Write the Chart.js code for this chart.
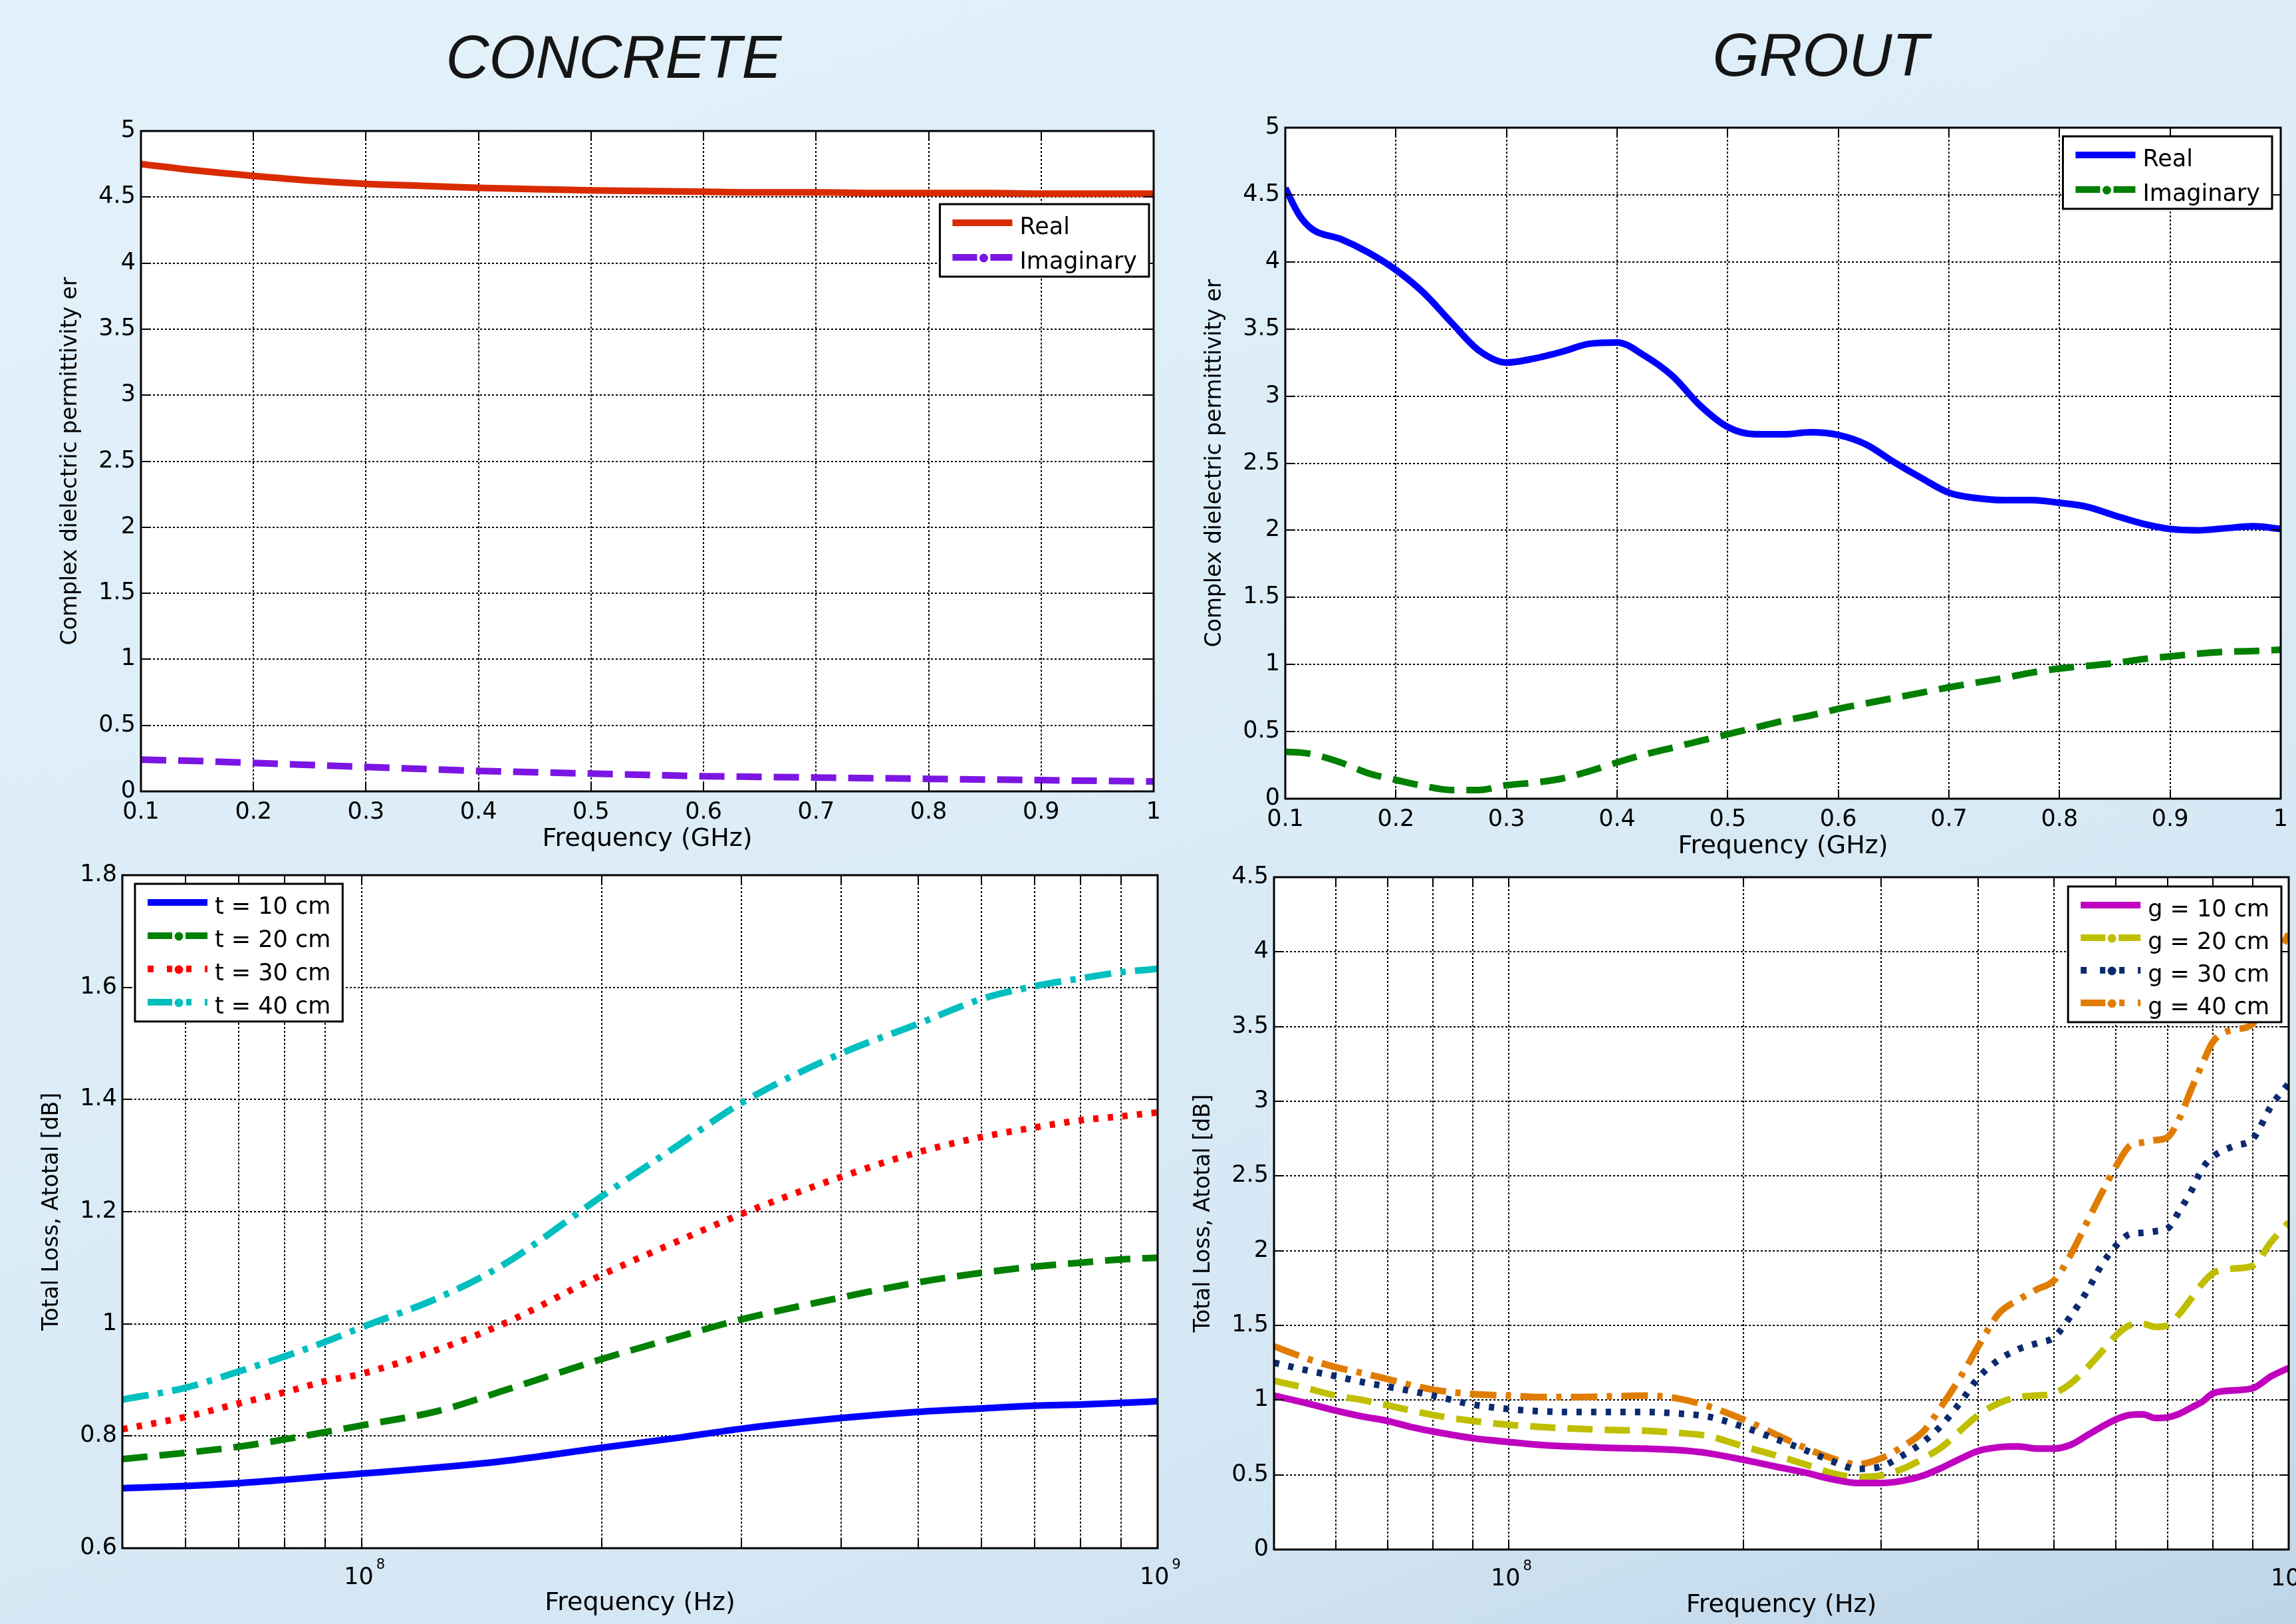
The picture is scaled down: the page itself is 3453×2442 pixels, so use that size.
<!DOCTYPE html>
<html lang="en">
<head>
  <meta charset="UTF-8" />
  <title>Concrete and grout - permittivity and total loss</title>
  <script src="https://cdn.jsdelivr.net/npm/chart.js"></script>
  <style>
    html, body { margin: 0; padding: 0; }
    body {
      width: 3453px; height: 2442px; overflow: hidden; position: relative;
      background: linear-gradient(160deg, #e3f1fa 0%, #dcedf8 45%, #d3e6f3 80%, #bdd5e9 100%);
    }
    .panel-title {
      position: absolute; top: 41px; transform: translateX(-50%); white-space: nowrap;
      font: italic 90px/90px "Liberation Sans", Arial, sans-serif; color: #151515;
    }
    canvas { position: absolute; }
  </style>
</head>
<body>
  <div class="panel-title" style="left:923px">CONCRETE</div>
  <div class="panel-title" style="left:2738px; top:38px">GROUT</div>

  <canvas id="concretePerm" width="1760" height="1150" style="left:0; top:150px"></canvas>
  <canvas id="groutPerm" width="1693" height="1150" style="left:1760px; top:150px"></canvas>
  <canvas id="concreteLoss" width="1790" height="1157" style="left:0; top:1285px"></canvas>
  <canvas id="groutLoss" width="1693" height="1157" style="left:1760px; top:1285px"></canvas>

  <script>
    // ---- tick values ----
    const ghzTicks = [0.1, 0.2, 0.3, 0.4, 0.5, 0.6, 0.7, 0.8, 0.9, 1];
    const permTicks = [0, 0.5, 1, 1.5, 2, 2.5, 3, 3.5, 4, 4.5, 5];
    const hzTicks = [5e7, 6e7, 7e7, 8e7, 9e7, 1e8, 2e8, 3e8, 4e8, 5e8, 6e8, 7e8, 8e8, 9e8, 1e9];
    const hzLabelValues = [1e8, 1e9];
    const concreteLossTicks = [0.6, 0.8, 1, 1.2, 1.4, 1.6, 1.8];
    const groutLossTicks = [0, 0.5, 1, 1.5, 2, 2.5, 3, 3.5, 4, 4.5];

    // ---- concrete permittivity ----
    const concreteGHz = [0.1, 0.15, 0.2, 0.25, 0.3, 0.35, 0.4, 0.45, 0.5, 0.55, 0.6, 0.65, 0.7, 0.75, 0.8, 0.85, 0.9, 0.95, 1];
    const concreteReal = [4.75, 4.70, 4.66, 4.625, 4.60, 4.585, 4.57, 4.56, 4.55, 4.545, 4.54, 4.535, 4.535, 4.53, 4.53, 4.53, 4.525, 4.525, 4.525];
    const concreteImag = [0.24, 0.23, 0.215, 0.2, 0.185, 0.17, 0.155, 0.145, 0.135, 0.125, 0.115, 0.11, 0.105, 0.1, 0.095, 0.09, 0.085, 0.08, 0.075];

    // ---- grout permittivity ----
    const groutGHz = [0.1, 0.1125, 0.125, 0.15, 0.175, 0.2, 0.225, 0.25, 0.275, 0.3, 0.325, 0.35, 0.375, 0.4, 0.425, 0.45, 0.475, 0.5, 0.525, 0.55, 0.575, 0.6, 0.625, 0.65, 0.675, 0.7, 0.725, 0.75, 0.775, 0.8, 0.825, 0.85, 0.875, 0.9, 0.925, 0.95, 0.975, 1];
    const groutReal = [4.55, 4.35, 4.24, 4.17, 4.07, 3.94, 3.77, 3.55, 3.34, 3.25, 3.28, 3.33, 3.39, 3.40, 3.30, 3.15, 2.93, 2.77, 2.715, 2.715, 2.73, 2.71, 2.64, 2.51, 2.39, 2.28, 2.24, 2.225, 2.225, 2.205, 2.175, 2.11, 2.05, 2.01, 2.00, 2.015, 2.03, 2.01];
    const groutImag = [0.35, 0.345, 0.33, 0.27, 0.19, 0.14, 0.095, 0.065, 0.065, 0.10, 0.12, 0.15, 0.205, 0.27, 0.33, 0.38, 0.43, 0.48, 0.53, 0.58, 0.62, 0.67, 0.71, 0.75, 0.79, 0.83, 0.865, 0.90, 0.94, 0.97, 0.99, 1.01, 1.04, 1.06, 1.08, 1.095, 1.10, 1.11];

    // ---- concrete total loss (t = thickness) ----
    const concreteHz = [5e7, 6e7, 7e7, 8e7, 9e7, 1e8, 1.25e8, 1.5e8, 2e8, 2.5e8, 3e8, 4e8, 5e8, 6e8, 7e8, 8e8, 9e8, 1e9];
    const lossT10 = [0.707, 0.711, 0.716, 0.722, 0.728, 0.733, 0.744, 0.755, 0.779, 0.797, 0.813, 0.832, 0.843, 0.849, 0.854, 0.856, 0.859, 0.862];
    const lossT20 = [0.759, 0.770, 0.781, 0.794, 0.807, 0.819, 0.845, 0.880, 0.937, 0.977, 1.008, 1.047, 1.074, 1.091, 1.102, 1.109, 1.115, 1.118];
    const lossT30 = [0.812, 0.834, 0.858, 0.878, 0.898, 0.911, 0.955, 0.999, 1.087, 1.148, 1.196, 1.262, 1.306, 1.333, 1.350, 1.363, 1.370, 1.377];
    const lossT40 = [0.865, 0.886, 0.915, 0.942, 0.968, 0.994, 1.047, 1.104, 1.227, 1.319, 1.394, 1.482, 1.535, 1.579, 1.602, 1.616, 1.627, 1.633];

    // ---- grout total loss (g = thickness) ----
    const groutHz = [5e7, 5.5e7, 6e7, 6.5e7, 7e7, 7.5e7, 8e7, 9e7, 1e8, 1.1e8, 1.2e8, 1.35e8, 1.5e8, 1.65e8, 1.8e8, 2e8, 2.2e8, 2.4e8, 2.6e8, 2.8e8, 3e8, 3.2e8, 3.4e8, 3.6e8, 3.8e8, 4e8, 4.25e8, 4.5e8, 4.75e8, 5e8, 5.25e8, 5.5e8, 5.75e8, 6e8, 6.25e8, 6.5e8, 6.75e8, 7e8, 7.25e8, 7.5e8, 7.75e8, 8e8, 8.5e8, 9e8, 9.5e8, 1e9];
    const lossG10 = [1.03, 0.98, 0.93, 0.89, 0.86, 0.82, 0.79, 0.745, 0.72, 0.70, 0.69, 0.68, 0.675, 0.665, 0.645, 0.60, 0.555, 0.515, 0.47, 0.445, 0.445, 0.46, 0.495, 0.55, 0.61, 0.66, 0.685, 0.69, 0.676, 0.676, 0.70, 0.76, 0.82, 0.87, 0.90, 0.905, 0.88, 0.885, 0.91, 0.95, 0.99, 1.045, 1.065, 1.08, 1.16, 1.215];
    const lossG20 = [1.13, 1.08, 1.03, 1.0, 0.965, 0.93, 0.90, 0.86, 0.835, 0.82, 0.81, 0.80, 0.795, 0.78, 0.76, 0.69, 0.63, 0.57, 0.51, 0.485, 0.495, 0.54, 0.61, 0.69, 0.80, 0.90, 0.98, 1.02, 1.03, 1.045, 1.11, 1.21, 1.32, 1.43, 1.50, 1.51, 1.49, 1.50, 1.58, 1.68, 1.78, 1.85, 1.88, 1.90, 2.06, 2.19];
    const lossG30 = [1.25, 1.20, 1.16, 1.12, 1.09, 1.06, 1.03, 0.97, 0.94, 0.925, 0.92, 0.92, 0.92, 0.91, 0.89, 0.82, 0.74, 0.665, 0.59, 0.54, 0.555, 0.63, 0.72, 0.84, 0.99, 1.15, 1.27, 1.34, 1.38, 1.42, 1.56, 1.72, 1.90, 2.03, 2.11, 2.12, 2.13, 2.15, 2.27, 2.40, 2.55, 2.63, 2.70, 2.75, 2.97, 3.12];
    const lossG40 = [1.36, 1.28, 1.22, 1.18, 1.14, 1.10, 1.07, 1.04, 1.03, 1.02, 1.02, 1.025, 1.03, 1.01, 0.96, 0.87, 0.77, 0.68, 0.61, 0.57, 0.61, 0.69, 0.79, 0.97, 1.16, 1.36, 1.58, 1.67, 1.74, 1.80, 1.97, 2.18, 2.38, 2.56, 2.70, 2.725, 2.74, 2.76, 2.89, 3.08, 3.25, 3.40, 3.48, 3.52, 3.90, 4.12];

    Chart.defaults.font.family = '"DejaVu Sans", sans-serif';
    Chart.defaults.color = '#000';

    const DASH = [38, 18];
    const DOT = [8, 14];
    const DASHDOT = [40, 14, 8, 14];

    function series(label, xs, ys, color, dash, sampleStyle) {
      return {
        label, sampleStyle,
        data: xs.map((x, i) => ({ x: x, y: ys[i] })),
        borderColor: color,
        borderDash: dash || [],
      };
    }

    // legend samples in the MATLAB style: [from, to] bars plus an optional centre dot
    const samplePieces = {
      solid: { bars: [[0, 90]], dot: false },
      dash: { bars: [[0, 37], [57, 90]], dot: true },
      dot: { bars: [[0, 9], [29, 37], [58, 66], [86, 90]], dot: true },
      dashdot: { bars: [[0, 37], [58, 66], [86, 90]], dot: true },
    };

    function drawLegend(chart, lg) {
      const { ctx, chartArea: a } = chart;
      const sets = chart.data.datasets;
      ctx.font = '35px "DejaVu Sans"';
      const textW = Math.max(...sets.map(d => ctx.measureText(d.label).width));
      const w = 19 + 90 + 11 + textW + 18;
      const h = 28 + (sets.length - 1) * lg.rowGap + 29;
      const x0 = lg.side === 'left' ? a.left + lg.dx : a.right - lg.dx - w;
      const y0 = a.top + lg.dy;
      ctx.fillStyle = '#fff';
      ctx.fillRect(x0, y0, w, h);
      ctx.lineWidth = 3;
      ctx.strokeStyle = '#000';
      ctx.strokeRect(x0, y0, w, h);
      sets.forEach((d, i) => {
        const cy = y0 + 28 + i * lg.rowGap;
        const sx = x0 + 19;
        const piece = samplePieces[d.sampleStyle];
        ctx.fillStyle = d.borderColor;
        piece.bars.forEach(b => ctx.fillRect(sx + b[0], cy - 5, b[1] - b[0], 10));
        if (piece.dot) {
          ctx.beginPath();
          ctx.arc(sx + 47, cy + 1, 6.5, 0, Math.PI * 2);
          ctx.fill();
        }
        ctx.fillStyle = '#000';
        ctx.textAlign = 'left';
        ctx.textBaseline = 'alphabetic';
        ctx.fillText(d.label, sx + 101, cy + 17);
      });
    }

    const axesLook = {
      id: 'axesLook',
      beforeDraw(chart) {
        const { ctx, chartArea: a } = chart;
        ctx.save();
        ctx.fillStyle = '#fff';
        ctx.fillRect(a.left, a.top, a.right - a.left, a.bottom - a.top);
        ctx.restore();
      },
      afterDraw(chart, args, opts) {
        const { ctx, chartArea: a, scales } = chart;
        ctx.save();
        // inward tick marks on all four sides
        ctx.strokeStyle = '#000';
        ctx.lineWidth = 2;
        ctx.setLineDash([]);
        ctx.beginPath();
        scales.x.ticks.forEach(t => {
          const px = Math.round(scales.x.getPixelForValue(t.value));
          ctx.moveTo(px, a.bottom); ctx.lineTo(px, a.bottom - 14);
          ctx.moveTo(px, a.top); ctx.lineTo(px, a.top + 14);
        });
        scales.y.ticks.forEach(t => {
          const py = Math.round(scales.y.getPixelForValue(t.value));
          ctx.moveTo(a.left, py); ctx.lineTo(a.left + 14, py);
          ctx.moveTo(a.right, py); ctx.lineTo(a.right - 14, py);
        });
        ctx.stroke();
        ctx.lineWidth = 3;
        ctx.strokeRect(a.left, a.top, a.right - a.left, a.bottom - a.top);

        // 10^n labels for the logarithmic frequency axis
        if (opts.powerLabels) {
          opts.powerLabels.forEach(v => {
            const px = scales.x.getPixelForValue(v);
            ctx.fillStyle = '#000';
            ctx.textAlign = 'left';
            ctx.textBaseline = 'alphabetic';
            ctx.font = '35px "DejaVu Sans"';
            ctx.fillText('10', px - 27, a.bottom + 54);
            const w10 = ctx.measureText('10').width;
            ctx.font = '21px "DejaVu Sans"';
            ctx.fillText(String(Math.round(Math.log10(v))), px - 27 + w10 + 4, a.bottom + 31);
          });
        }
        if (opts.legend) drawLegend(chart, opts.legend);
        ctx.restore();
      }
    };

    function makePanel(id, p) {
      return new Chart(document.getElementById(id), {
        type: 'line',
        data: { datasets: p.datasets },
        plugins: [axesLook],
        options: {
          responsive: false,
          animation: false,
          devicePixelRatio: 1,
          layout: { padding: p.padding },
          elements: {
            point: { radius: 0 },
            line: { borderWidth: 10, borderCapStyle: 'butt', borderJoinStyle: 'round', cubicInterpolationMode: 'monotone' }
          },
          datasets: { line: { clip: 0 } },
          plugins: {
            legend: { display: false },
            tooltip: { enabled: false },
            axesLook: { legend: p.legend, powerLabels: p.powerLabels }
          },
          scales: {
            x: {
              type: p.xType, min: p.xMin, max: p.xMax,
              afterBuildTicks: s => { s.ticks = p.xTicks.map(v => ({ value: v })); },
              afterFit: s => { s.height = p.xHeight; },
              ticks: { autoSkip: false, maxRotation: 0, padding: 11, font: { size: 35 }, callback: p.xTickText },
              grid: { color: '#000', lineWidth: 2, drawTicks: false },
              border: { display: false, dash: [3, 3] },
              title: { display: true, text: p.xTitle, font: { size: 38, lineHeight: 1.2 }, padding: { top: 0, bottom: -2 } }
            },
            y: {
              type: 'linear', min: p.yMin, max: p.yMax,
              afterBuildTicks: s => { s.ticks = p.yTicks.map(v => ({ value: v })); },
              afterFit: s => { s.width = 140; },
              ticks: { autoSkip: false, padding: 8, font: { size: 35 }, callback: v => String(v) },
              grid: { color: '#000', lineWidth: 2, drawTicks: false },
              border: { display: false, dash: [3, 3] },
              title: { display: true, text: p.yTitle, font: { size: 33, lineHeight: 1.2 }, padding: { top: 15, bottom: 0 } }
            }
          }
        }
      });
    }

    makePanel('concretePerm', {
      padding: { left: 72, top: 47, right: 25, bottom: 17 },
      xType: 'linear', xMin: 0.1, xMax: 1, xTicks: ghzTicks, xHeight: 93, xTickText: v => String(v),
      xTitle: 'Frequency (GHz)',
      yMin: 0, yMax: 5, yTicks: permTicks, yTitle: 'Complex dielectric permittivity er',
      legend: { side: 'right', dx: 7, dy: 110, rowGap: 52 },
      datasets: [
        series('Real', concreteGHz, concreteReal, '#d92b00', null, 'solid'),
        series('Imaginary', concreteGHz, concreteImag, '#7b15e3', DASH, 'dash'),
      ]
    });

    makePanel('groutPerm', {
      padding: { left: 33, top: 42, right: 23, bottom: 6 },
      xType: 'linear', xMin: 0.1, xMax: 1, xTicks: ghzTicks, xHeight: 93, xTickText: v => String(v),
      xTitle: 'Frequency (GHz)',
      yMin: 0, yMax: 5, yTicks: permTicks, yTitle: 'Complex dielectric permittivity er',
      legend: { side: 'right', dx: 13, dy: 13, rowGap: 52 },
      datasets: [
        series('Real', groutGHz, groutReal, '#0000ff', null, 'solid'),
        series('Imaginary', groutGHz, groutImag, '#008000', DASH, 'dash'),
      ]
    });

    makePanel('concreteLoss', {
      padding: { left: 44, top: 31, right: 49, bottom: 10 },
      xType: 'logarithmic', xMin: 5e7, xMax: 1e9, xTicks: hzTicks, xHeight: 104, xTickText: () => '',
      xTitle: 'Frequency (Hz)',
      yMin: 0.6, yMax: 1.8, yTicks: concreteLossTicks, yTitle: 'Total Loss, Atotal [dB]',
      powerLabels: hzLabelValues,
      legend: { side: 'left', dx: 19, dy: 13, rowGap: 50 },
      datasets: [
        series('t = 10 cm', concreteHz, lossT10, '#0000ff', null, 'solid'),
        series('t = 20 cm', concreteHz, lossT20, '#008000', DASH, 'dash'),
        series('t = 30 cm', concreteHz, lossT30, '#ff0000', DOT, 'dot'),
        series('t = 40 cm', concreteHz, lossT40, '#00bfbf', DASHDOT, 'dashdot'),
      ]
    });

    makePanel('groutLoss', {
      padding: { left: 16, top: 34, right: 9, bottom: 7 },
      xType: 'logarithmic', xMin: 5e7, xMax: 1e9, xTicks: hzTicks, xHeight: 105, xTickText: () => '',
      xTitle: 'Frequency (Hz)',
      yMin: 0, yMax: 4.5, yTicks: groutLossTicks, yTitle: 'Total Loss, Atotal [dB]',
      powerLabels: hzLabelValues,
      legend: { side: 'right', dx: 11, dy: 14, rowGap: 49 },
      datasets: [
        series('g = 10 cm', groutHz, lossG10, '#bf00bf', null, 'solid'),
        series('g = 20 cm', groutHz, lossG20, '#bfbf00', DASH, 'dash'),
        series('g = 30 cm', groutHz, lossG30, '#0b2a6f', DOT, 'dot'),
        series('g = 40 cm', groutHz, lossG40, '#e07d00', DASHDOT, 'dashdot'),
      ]
    });
  </script>
</body>
</html>
